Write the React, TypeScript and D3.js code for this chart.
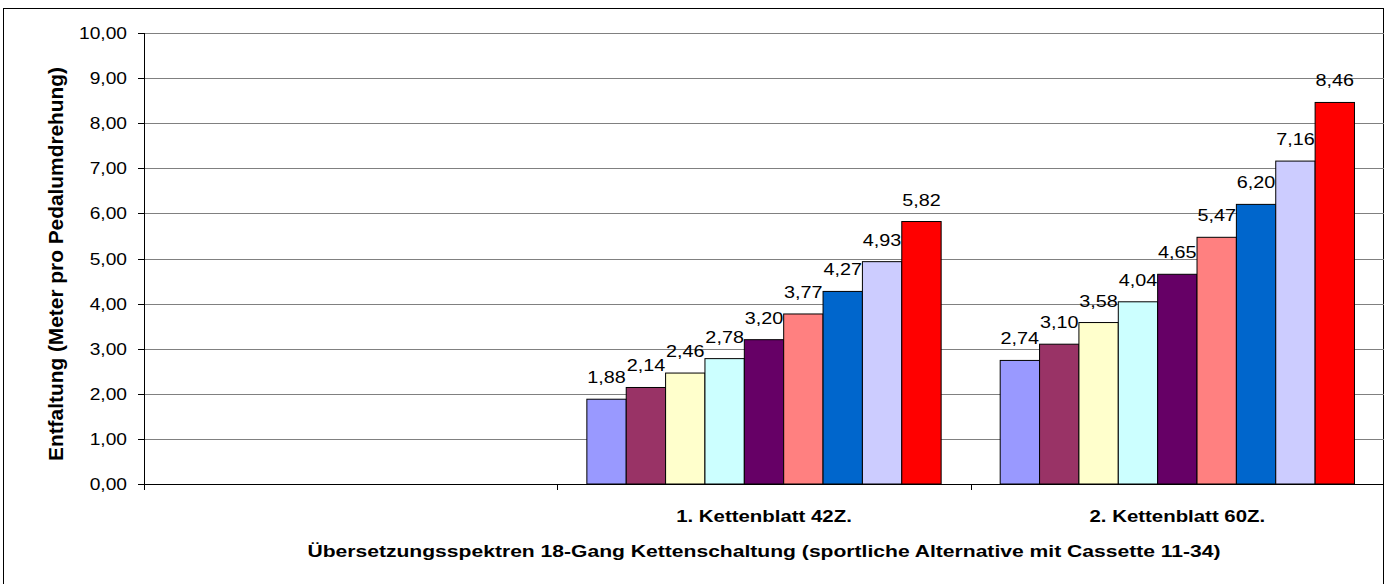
import React from 'react';
import * as d3 from 'd3';

// categories on the x axis (first slot is empty in the original)
const categories = ['', '1. Kettenblatt 42Z.', '2. Kettenblatt 60Z.'];

// cassette sprockets 11-34 (one series per sprocket)
const sprockets = ['34Z', '30Z', '26Z', '23Z', '20Z', '17Z', '15Z', '13Z', '11Z'];

// Entfaltung in metres per crank turn
const values42 = [1.88, 2.14, 2.46, 2.78, 3.2, 3.77, 4.27, 4.93, 5.82];
const values60 = [2.74, 3.1, 3.58, 4.04, 4.65, 5.47, 6.2, 7.16, 8.46];

const yTicks = [0, 1, 2, 3, 4, 5, 6, 7, 8, 9, 10];

const colors = ['#9999FF', '#993366', '#FFFFCC', '#CCFFFF', '#660066', '#FF8080', '#0066CC', '#CCCCFF', '#FF0000'];

const W = 1391;
const H = 584;
const font = '"Liberation Sans", Arial, sans-serif';
const SX = 1.2; // the original picture is stretched sideways

const de = d3.formatLocale({ decimal: ',', thousands: '.', grouping: [3], currency: ['', ' €'] });
const fmt = de.format('.2f');

export default function App() {
  const left = 144;
  const right = 1384;
  const top = 33;
  const bottom = 484;

  const x0 = d3.scaleBand<string>().domain(categories.map((c, i) => String(i))).range([left, right]).padding(0);
  const x1 = d3
    .scaleBand<string>()
    .domain(sprockets)
    .range([0, x0.bandwidth()])
    .paddingInner(0)
    .paddingOuter(0.75);
  const y = d3.scaleLinear().domain([0, 10]).range([bottom, top]);

  const seriesByCat: (number[] | null)[] = [null, values42, values60];

  const stretched = (tx: number, ty: number, extra = '') => `translate(${tx},${ty}) scale(${SX},1)${extra}`;

  return (
    <svg width={W} height={H} style={{ position: 'absolute', left: 0, top: 0, background: '#fff' }}>
      <rect x={3.5} y={8.5} width={1380} height={600} fill="#fff" stroke="#000" strokeWidth={1} />

      {/* gridlines */}
      {yTicks.slice(1).map((t) => (
        <line key={'g' + t} x1={left} x2={right} y1={Math.round(y(t)) + 0.5} y2={Math.round(y(t)) + 0.5} stroke="#808080" />
      ))}

      {/* bars */}
      {seriesByCat.map((vals, ci) =>
        vals
          ? vals.map((v, si) => {
              const bx = (x0(String(ci)) as number) + (x1(sprockets[si]) as number);
              return (
                <rect
                  key={ci + '-' + si}
                  x={bx}
                  y={y(v)}
                  width={x1.bandwidth()}
                  height={bottom - y(v)}
                  fill={colors[si]}
                  stroke="#000"
                  strokeWidth={1}
                />
              );
            })
          : null
      )}

      {/* data labels */}
      {seriesByCat.map((vals, ci) =>
        vals
          ? vals.map((v, si) => {
              const cx = (x0(String(ci)) as number) + (x1(sprockets[si]) as number) + x1.bandwidth() / 2;
              return (
                <text
                  key={'l' + ci + '-' + si}
                  transform={stretched(cx, y(v) - 16)}
                  textAnchor="middle"
                  fontFamily={font}
                  fontSize={16.5}
                  fill="#000"
                >
                  {fmt(v)}
                </text>
              );
            })
          : null
      )}

      {/* axes */}
      <line x1={left + 0.5} x2={left + 0.5} y1={top} y2={bottom + 6} stroke="#000" />
      <line x1={left} x2={right} y1={bottom + 0.5} y2={bottom + 0.5} stroke="#000" />
      {yTicks.map((t) => (
        <g key={'t' + t}>
          <line x1={left - 6} x2={left} y1={Math.round(y(t)) + 0.5} y2={Math.round(y(t)) + 0.5} stroke="#000" />
          <text transform={stretched(left - 17, y(t) + 6)} textAnchor="end" fontFamily={font} fontSize={16} fill="#000">
            {fmt(t)}
          </text>
        </g>
      ))}
      {categories.map((c, i) => (
        <g key={'c' + i}>
          {i > 0 && (
            <line
              x1={Math.round(x0(String(i)) as number) + 0.5}
              x2={Math.round(x0(String(i)) as number) + 0.5}
              y1={bottom}
              y2={bottom + 6}
              stroke="#000"
            />
          )}
          <text
            transform={stretched((x0(String(i)) as number) + x0.bandwidth() / 2, 522)}
            textAnchor="middle"
            fontFamily={font}
            fontSize={17}
            fontWeight="bold"
            fill="#000"
          >
            {c}
          </text>
        </g>
      ))}

      {/* axis titles */}
      <text
        transform={stretched((left + right) / 2, 557)}
        textAnchor="middle"
        fontFamily={font}
        fontSize={17}
        fontWeight="bold"
        fill="#000"
        textLength={761}
        lengthAdjust="spacingAndGlyphs"
      >
        Übersetzungsspektren 18-Gang Kettenschaltung (sportliche Alternative mit Cassette 11-34)
      </text>
      <text
        transform={stretched(63, 264, ' rotate(-90)')}
        textAnchor="middle"
        fontFamily={font}
        fontSize={17}
        fontWeight="bold"
        fill="#000"
        textLength={394}
        lengthAdjust="spacingAndGlyphs"
      >
        Entfaltung (Meter pro Pedalumdrehung)
      </text>
    </svg>
  );
}
